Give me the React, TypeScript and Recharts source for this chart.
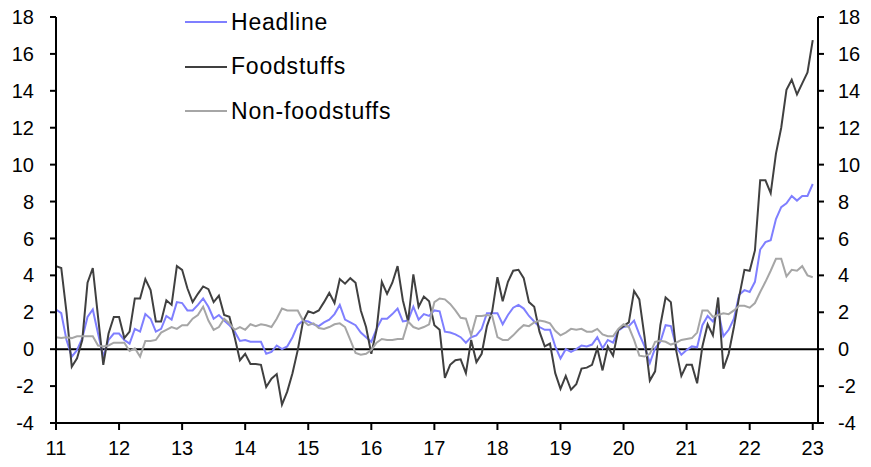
import {
  LineChart,
  Line,
  XAxis,
  YAxis,
  ReferenceLine,
  Legend,
} from "recharts";

// monthly y/y inflation, Jan 2011 .. Jan 2023 (145 months)
const HEADLINE = [
  2.15, 1.95, 0.5, -0.4, -0.05, 0.6, 1.75, 2.15, 0.85, -0.4, 0.5, 0.85,
  0.85, 0.5, 0.3, 1.1, 0.95, 1.9, 1.65, 0.95, 1.1, 1.8, 1.6, 2.55,
  2.5, 2.1, 2.1, 2.4, 2.75, 2.3, 1.65, 1.85, 1.55, 1.3, 0.95, 0.45,
  0.5, 0.4, 0.4, 0.4, -0.25, -0.15, 0.2, 0.0, 0.15, 0.65, 1.3, 1.55,
  1.5, 1.35, 1.25, 1.45, 1.6, 1.9, 2.4, 1.6, 1.45, 1.3, 0.9, 0.65,
  0.4, 1.1, 1.65, 1.65, 1.9, 2.2, 1.5, 1.55, 2.3, 1.6, 1.9, 1.8,
  2.1, 2.05, 0.95, 0.9, 0.8, 0.65, 0.35, 0.65, 0.75, 1.1, 1.95, 1.95,
  1.95, 1.35, 1.85, 2.25, 2.4, 2.2, 1.8, 1.5, 1.2, 1.05, 1.05, 0.15,
  -0.5, 0.0, -0.15, 0.0, 0.2, 0.15, 0.25, 0.65, 0.05, 0.5, 0.35, 1.0,
  1.2, 1.25, 1.55, 0.8, 0.15, -0.75, 0.05, 0.4, 1.3, 1.25, 0.15, -0.3,
  -0.05, 0.15, 0.1, 1.3, 1.8, 1.5, 2.1, 0.7, 1.05, 1.65, 2.95, 3.2,
  3.1, 3.65, 5.4, 5.8, 5.9, 7.05, 7.7, 7.9, 8.3, 8.05, 8.3, 8.3,
  8.95,
];

const FOODSTUFFS = [
  4.5, 4.4, 2.0, -0.95, -0.5, 0.5, 3.6, 4.4, 1.75, -0.85, 0.85, 1.75,
  1.75, 0.6, 0.95, 2.75, 2.75, 3.8, 3.2, 1.5, 1.5, 2.65, 2.4, 4.5,
  4.3, 3.3, 2.55, 3.0, 3.4, 3.25, 2.55, 2.9, 1.85, 1.75, 0.65, -0.6,
  -0.25, -0.8, -0.8, -0.85, -2.05, -1.6, -1.35, -3.0, -2.3, -1.3, -0.05, 1.5,
  2.05, 1.95, 2.1, 2.55, 3.05, 2.5, 3.8, 3.55, 3.85, 3.6, 2.1, 1.2,
  -0.25, 1.05, 3.65, 3.0, 3.6, 4.5, 2.65, 1.5, 4.05, 2.3, 2.85, 2.6,
  1.3, 1.05, -1.55, -0.85, -0.6, -0.55, -1.3, 0.5, -0.7, -0.25, 1.25, 2.05,
  3.9, 2.6, 3.65, 4.25, 4.3, 3.85, 2.55, 2.3, 0.95, 0.15, 0.3, -1.3,
  -2.15, -1.45, -2.2, -1.9, -1.05, -1.0, -0.85, 0.05, -1.15, 0.15, -0.35, 1.05,
  1.25, 1.45, 3.15, 2.7, 0.65, -1.7, -1.2, 1.3, 2.8, 2.55, -0.05, -1.45,
  -0.85, -0.85, -1.85, 0.15, 1.35, 0.75, 2.8, -1.05, -0.25, 1.2, 2.85, 4.3,
  4.25, 5.35, 9.15, 9.15, 8.45, 10.6, 12.0, 14.05, 14.6, 13.8, 14.4, 15.0,
  16.75,
];

const NON_FOODSTUFFS = [
  0.65, 0.6, 0.65, 0.6, 0.7, 0.7, 0.7, 0.7, 0.2, 0.15, 0.2, 0.35,
  0.35, 0.35, -0.1, 0.05, -0.4, 0.45, 0.45, 0.5, 0.9, 1.05, 1.2, 1.1,
  1.3, 1.3, 1.65, 1.85, 2.3, 1.55, 1.05, 1.2, 1.65, 1.4, 1.05, 1.2,
  1.05, 1.35, 1.25, 1.35, 1.3, 1.2, 1.65, 2.2, 2.1, 2.1, 2.1, 1.55,
  1.3, 1.4, 1.15, 1.1, 1.2, 1.35, 1.4, 1.2, 0.5, -0.2, -0.3, -0.25,
  -0.05, 0.35, 0.55, 0.5, 0.5, 0.55, 0.55, 1.5, 1.2, 1.1, 1.2, 1.35,
  2.55, 2.75, 2.7, 2.45, 2.1, 1.7, 1.65, 0.75, 1.8, 1.8, 1.85, 1.8,
  0.65, 0.5, 0.5, 0.75, 1.05, 1.3, 1.25, 1.45, 1.55, 1.5, 1.4, 1.0,
  0.75, 0.9, 1.1, 1.05, 1.1, 0.95, 0.95, 1.1, 0.8, 0.7, 0.7, 1.1,
  1.35, 1.2, 0.5, -0.35, -0.4, -0.25, 0.4, 0.45, 0.4, 0.25, 0.35, 0.5,
  0.55, 0.6, 0.9, 2.1, 2.1, 1.75, 1.85, 1.95, 1.9, 2.1, 2.35, 2.35,
  2.25, 2.5, 3.1, 3.65, 4.25, 4.9, 4.9, 3.95, 4.3, 4.25, 4.5, 4.0,
  3.9,
];

const YEAR_TICKS = [0, 12, 24, 36, 48, 60, 72, 84, 96, 108, 120, 132, 144];
const YEAR_LABELS = ["11", "12", "13", "14", "15", "16", "17", "18", "19", "20", "21", "22", "23"];
const Y_TICKS = [-4, -2, 0, 2, 4, 6, 8, 10, 12, 14, 16, 18];

const SERIES = [
  { key: "headline", name: "Headline", color: "#7f7fff" },
  { key: "food", name: "Foodstuffs", color: "#404040" },
  { key: "nonfood", name: "Non-foodstuffs", color: "#a6a6a6" },
];

const FONT = "'Liberation Sans', Arial, sans-serif";

const data = HEADLINE.map((v, i) => ({
  m: i,
  headline: v,
  food: FOODSTUFFS[i],
  nonfood: NON_FOODSTUFFS[i],
}));

function LegendBox() {
  return (
    <div style={{ fontFamily: FONT, fontSize: 23, color: "#000" }}>
      {SERIES.map((s) => (
        <div key={s.key} style={{ display: "flex", alignItems: "center", height: 44.5 }}>
          <span style={{ width: 42, height: 2, background: s.color, marginRight: 4 }} />
          <span style={{ letterSpacing: 0.8 }}>{s.name}</span>
        </div>
      ))}
    </div>
  );
}

export default function App() {
  const tick = { fill: "#000", fontSize: 20, fontFamily: FONT };
  const axisLine = { stroke: "#000", strokeWidth: 2 };
  const tickLine = { stroke: "#000", strokeWidth: 2 };

  return (
    <div style={{ width: 871, height: 467 }}>
      <style>{`body{margin:0}`}</style>
      <LineChart width={871} height={467} data={data} margin={{ top: 17, right: 0, bottom: 0, left: 0 }}>
        <XAxis
          dataKey="m"
          type="number"
          domain={[0, 145]}
          ticks={YEAR_TICKS}
          tickFormatter={(v: number) => YEAR_LABELS[YEAR_TICKS.indexOf(v)]}
          tick={tick}
          axisLine={axisLine}
          tickLine={tickLine}
          tickSize={7}
          tickMargin={11}
          height={44}
          interval={0}
        />
        <YAxis
          yAxisId="left"
          domain={[-4, 18]}
          ticks={Y_TICKS}
          tick={tick}
          axisLine={axisLine}
          tickLine={tickLine}
          tickSize={6}
          tickMargin={16}
          width={56}
          interval={0}
        />
        <YAxis
          yAxisId="right"
          orientation="right"
          domain={[-4, 18]}
          ticks={Y_TICKS}
          tick={tick}
          axisLine={axisLine}
          tickLine={tickLine}
          tickSize={6}
          tickMargin={14}
          width={53}
          interval={0}
        />
        <ReferenceLine yAxisId="left" y={0} stroke="#000" strokeWidth={2} />
        {/* invisible copy so the right axis has a series to scale against */}
        <Line
          yAxisId="right"
          dataKey="headline"
          stroke="none"
          dot={false}
          activeDot={false}
          legendType="none"
          isAnimationActive={false}
        />
        {SERIES.map((s) => (
          <Line
            key={s.key}
            yAxisId="left"
            type="linear"
            dataKey={s.key}
            name={s.name}
            stroke={s.color}
            strokeWidth={2}
            dot={false}
            isAnimationActive={false}
          />
        ))}
        <Legend
          layout="vertical"
          align="center"
          verticalAlign="middle"
          content={() => <LegendBox />}
          wrapperStyle={{ top: 0, left: 185, width: "auto" }}
        />
      </LineChart>
    </div>
  );
}
